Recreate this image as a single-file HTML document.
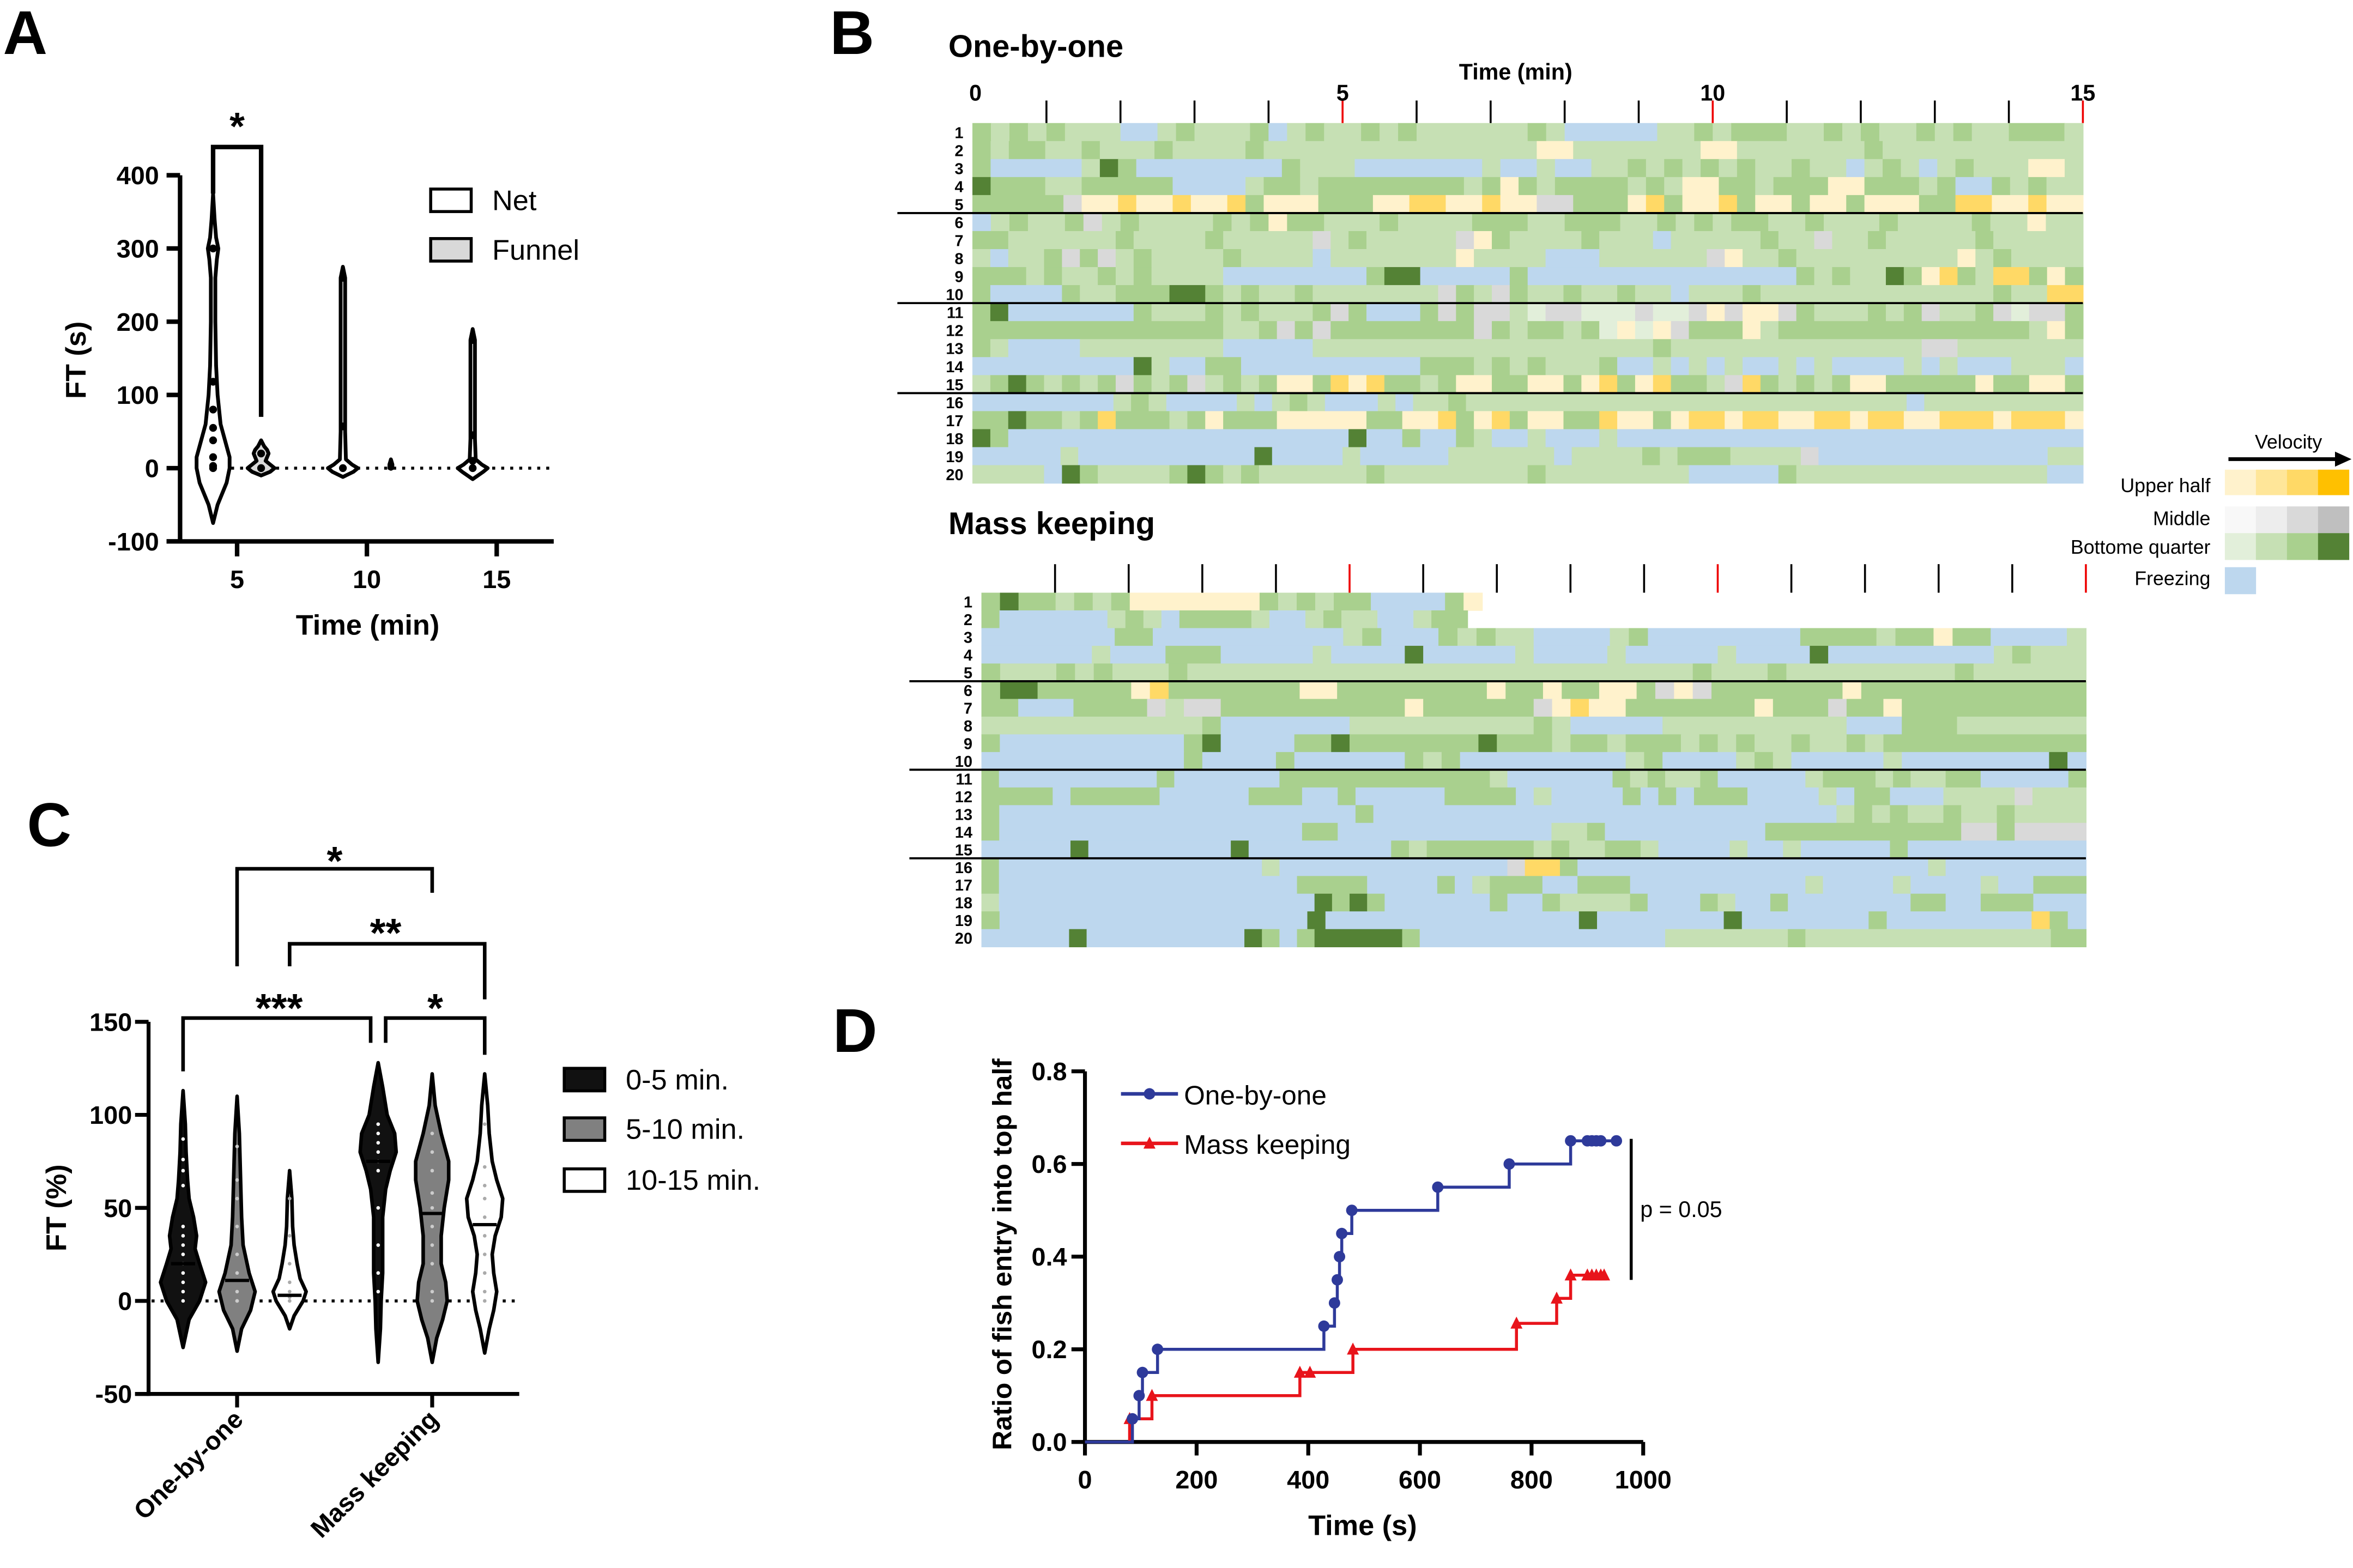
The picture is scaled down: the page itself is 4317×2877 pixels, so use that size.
<!DOCTYPE html>
<html><head><meta charset="utf-8">
<style>
html,body{margin:0;padding:0;background:#fff;}
svg{display:block;font-family:"Liberation Sans",Arial,sans-serif;}
.b{font-weight:bold;}
.rl{font-family:"Liberation Sans Narrow","Liberation Sans",sans-serif;font-weight:bold;font-size:10.5px;}
</style></head>
<body>
<svg id="fig" xmlns="http://www.w3.org/2000/svg" width="4317" height="2877" viewBox="0 0 1568 1045" preserveAspectRatio="none">
<rect x="0" y="0" width="1568" height="1045" fill="#fff"/>
<!-- Panel letters -->
<text x="2" y="36" class="b" font-size="41">A</text>
<text x="553" y="36" class="b" font-size="41">B</text>
<text x="18" y="564" class="b" font-size="41">C</text>
<text x="555" y="701" class="b" font-size="41">D</text>

<g id="panelA">
 <text x="0" y="0" class="b" font-size="19" text-anchor="middle" transform="translate(57,240) rotate(-90)">FT (s)</text>
 <text x="245" y="423" class="b" font-size="19" text-anchor="middle">Time (min)</text>
 <text x="158" y="93" class="b" font-size="26" text-anchor="middle">*</text>
 <rect x="287" y="126" width="27" height="15" fill="#fff" stroke="#000" stroke-width="2"/>
 <text x="328" y="140" font-size="19">Net</text>
 <rect x="287" y="159" width="27" height="15" fill="#d9d9d9" stroke="#000" stroke-width="2"/>
 <text x="328" y="173" font-size="19">Funnel</text>
</g>

<g id="panelB">
 <text x="632" y="38" class="b" font-size="21">One-by-one</text>
 <text x="1010" y="53" class="b" font-size="15" text-anchor="middle">Time (min)</text>
 <text x="632" y="356" class="b" font-size="21">Mass keeping</text>
 <text x="1525" y="299" font-size="13" text-anchor="middle">Velocity</text>
 <line x1="1485" y1="306" x2="1558" y2="306" stroke="#000" stroke-width="2.5"/>
 <polygon points="1556,301 1567,306 1556,311" fill="#000"/>
 <text x="1473" y="328" font-size="13" text-anchor="end">Upper half</text>
 <text x="1473" y="350" font-size="13" text-anchor="end">Middle</text>
 <text x="1473" y="369" font-size="13" text-anchor="end">Bottome quarter</text>
 <text x="1473" y="390" font-size="13" text-anchor="end">Freezing</text>
</g>

<g id="panelC">
 <text x="0" y="0" class="b" font-size="19" text-anchor="middle" transform="translate(44,805) rotate(-90)">FT (%)</text>
 <rect x="376" y="712" width="27" height="15" fill="#111" stroke="#000" stroke-width="2"/>
 <text x="417" y="726" font-size="19">0-5 min.</text>
 <rect x="376" y="745" width="27" height="15" fill="#808080" stroke="#000" stroke-width="2"/>
 <text x="417" y="759" font-size="19">5-10 min.</text>
 <rect x="376" y="779" width="27" height="15" fill="#fff" stroke="#000" stroke-width="2"/>
 <text x="417" y="793" font-size="19">10-15 min.</text>
</g>

<g id="panelD">
 <text x="0" y="0" class="b" font-size="18" text-anchor="middle" transform="translate(674,836) rotate(-90)">Ratio of fish entry into top half</text>
 <text x="908" y="1023" class="b" font-size="19" text-anchor="middle">Time (s)</text>
 <text x="789" y="736" font-size="18">One-by-one</text>
 <text x="789" y="769" font-size="18">Mass keeping</text>
 <line x1="1087" y1="759" x2="1087" y2="853" stroke="#000" stroke-width="2"/>
 <text x="1093" y="811" font-size="15">p = 0.05</text>
</g>
</svg>
<script>
const NS='http://www.w3.org/2000/svg';
const fig=document.getElementById('fig');
function mk(tag,attrs,parent){const e=document.createElementNS(NS,tag);for(const k in attrs)e.setAttribute(k,attrs[k]);(parent||fig).appendChild(e);return e;}

/* ================= PANEL A data ================= */
const aTimes=[5,10,15];
const aTicks=[400,300,200,100,0,-100];
const net5V=[-75,-50,-20,0,15,30,60,100,140,200,260,285,300,315,340,375];
const net5W=[0,3,9,11,11,9,5,3,2,1.5,1.5,2.5,3.5,2,1,0];
const funnel5V=[-10,-5,0,5,10,15,20,25,30,38];
const funnel5W=[0,6,9,6,3,4,5,4,2,0];
const net10V=[-12,-5,0,5,12,50,100,200,260,275];
const net10W=[0,7,10,6,2,1.5,1.5,1.5,1.5,0];
const funnel10V=[-1,0,5,12];
const funnel10W=[0,1,1,0];
const net15V=[-15,-5,0,5,12,40,100,175,190];
const net15W=[0,7,10,6,2,1.5,1.5,1.5,0];
const net5Dots=[0,3,15,38,55,80,118,300];
const funnel5Dots=[0,20];
const net10Dots=[0,57,260];
const net15Dots=[0,10,45,175];
const aMedians=[30,0,0,0,0,0];

const pA=document.getElementById('panelA');
const yA=v=>312-v*0.488;
const xA=t=>158+(t-5)*17.3;
function violin(parent,cx,vals,wids,ys,fill,sw,name){
  let pts=[];
  for(let i=0;i<vals.length;i++)pts.push([cx+wids[i],ys(vals[i])]);
  for(let i=vals.length-1;i>=0;i--)pts.push([cx-wids[i],ys(vals[i])]);
  const d='M'+pts.map(p=>p[0].toFixed(2)+','+p[1].toFixed(2)).join('L')+'Z';
  const p=mk('path',{d:d,fill:fill,stroke:'#000','stroke-width':sw,'stroke-linejoin':'round'},parent);
  
  
  return p;
}
// axes A
let e=mk('line',{x1:120,y1:yA(400),x2:120,y2:yA(-100)+1.5,stroke:'#000','stroke-width':3},pA);


e=mk('line',{x1:111,y1:yA(-100),x2:369,y2:yA(-100),stroke:'#000','stroke-width':3},pA);


aTicks.forEach(v=>{
  const t=mk('line',{x1:111,y1:yA(v),x2:120,y2:yA(v),stroke:'#000','stroke-width':3},pA);
  
  
  const l=mk('text',{x:106,y:yA(v)+6,'text-anchor':'end','font-size':17,'font-weight':'bold'},pA);
  l.textContent=v;
  
  
});
aTimes.forEach(tm=>{
  const t=mk('line',{x1:xA(tm),y1:yA(-100),x2:xA(tm),y2:yA(-100)+10,stroke:'#000','stroke-width':3},pA);
  
  
  const l=mk('text',{x:xA(tm),y:392,'text-anchor':'middle','font-size':17,'font-weight':'bold'},pA);
  l.textContent=tm;
  
  
});
e=mk('line',{x1:130,y1:yA(0),x2:366,y2:yA(0),stroke:'#000','stroke-width':2,'stroke-dasharray':'2,4'},pA);


const aViolins=[[5,-16,net5V,net5W,'#fff',net5Dots,'violin-net-5'],[5,16,funnel5V,funnel5W,'#d9d9d9',funnel5Dots,'violin-funnel-5'],
 [10,-16,net10V,net10W,'#fff',net10Dots,'violin-net-10'],[10,16,funnel10V,funnel10W,'#d9d9d9',[],'violin-funnel-10'],
 [15,-16,net15V,net15W,'#fff',net15Dots,'violin-net-15']];
aViolins.forEach(g=>{
  const cx=xA(g[0])+g[1];
  violin(pA,cx,g[2],g[3],yA,g[4],2.5,g[6]);
  g[5].forEach(v=>{
    const c=mk('circle',{cx:cx,cy:yA(v),r:2.6,fill:'#000'},pA);
    
    
  });
});
e=mk('path',{d:`M${xA(5)-16},${yA(375)} L${xA(5)-16},98 L${xA(5)+16},98 L${xA(5)+16},${yA(70)}`,fill:'none',stroke:'#000','stroke-width':3},pA);



/* ================= PANEL B data ================= */
const heatColors={F:'#bdd7ee',a:'#e2efda',b:'#c6e0b4',c:'#a9d08e',d:'#548235',y:'#fff2cc',Y:'#ffd966',g:'#d9d9d9'};
const oboRows=[
"cbcbcbbbFFbcbbbcFbcbbcbcbbbbbbcbFFFFFbbcbcccbbcbcbbcbcbbcccb",
"cbccbbcbbbcbbbbcbbbbbbbbbbbbbbbyybbbbbbbyybbbbbbbcbbbbbbbbbbb",
"cFFFFFbdcFFFFFFFFcbbbFFFFFFFbFFbFFbbcbcbcbcbbcbbFbcbFbcbbbyyb",
"dcccbbcccccFFFFbccbccccccccbcycbccccbcbyyccbcccyycccbcFFcbcbb",
"cccccgyyYyyYyyYcyyycccyyYYyyYyyggcccyYcyyYcyycyycyyyccYYyyYyy",
"Fbcbbcgbcbbbbcbcyccbbbcbbbbcccbbcccbbcbcbccbbcbbbcbbbbcbbybb",
"ccbbbbbbcbbbbcbbbbbgbcbbbbbgycbbbbcbbbFbbbbbcbbgbbcbbbbbcbbbbb",
"bFbbcgcgbcbbbbcbbbbFbbbbbbbybbbbFFFbbbbbbgybbcbbbbbbbbbybcbbbb",
"cccbcbbcbcbbbbFFFFFFFFcddFFFFFcFFFFFFFFFFFFFFFcbcbbdcyYcbYYcyc",
"cFFFFcbbcccddcbcbbcbbbbbbbgcbgcbbcbbcbbFbbbcbbbbbbbbbbbbbcbbYY",
"cdFFFFFFFcbbbcbcbbbcgcFFFcgcggbaggaaagaagygyygcbbbcbcgbbcgaggc",
"ccccccccccccccbbcgcgccccccccgcbccbcayaygcccybccccccccccccccbyc",
"cbFFFFbbbbbbbbFFFFFbbbbbbbbbbbbbbbbbbbcbbbbbbbbbbbbbbggbbbbbbb",
"FFFFFFFFFdbFFccFFFFFFFFFFcccbcbcbbbcFFbFbFbFFbFbFFFFbFbFFFbbbF",
"bcdcbcbcgcbcgbcbcyycYyYccbcyyccyycyYcyYccbgYcbcbcyycccccyccyyc",
"FFFFFFFFbcbFFFFbFbcbFFFbFbbcbbbbbbbbbbbbbbbbbbbbbbbbbFbbbbbbbbb",
"ccdccbcYcccbcycccyyyyyccyyYcyYcyyccYyycyYYyYYyyYYyYYyyYYYyYYYy",
"dcFFFFFFFFFFFFFFFFFFFdFFcFFcbFFbFFFbFFFFFFFFFFFFFFFFFFFFFFFFFF",
"FFFFFbFFFFFFFFFFdFFFFbFFFFFbbbbbbFbbbbcbcccbbbbgFFFFFFFFFFFFFbb",
"bbbbFdcbbbbcdcbcbbbbbbcbbbbbbbbcbbbbbbbbFFFFFcbbbbbbbbbbbbbbFF"];
const oboDur=[15,15,15,15,15,15,15,15,15,15,15,15,15,15,15,15,15,15,15,15];
const mkRows=[
"cdccbcbcyyyyyyycbcbccFFFFcy",
"cFFFFFFbcbFccccbFFbcbbFFbcc",
"FFFFFFFccFFFFFFFFFFbcFFFcbcbbFFFFbcFFFFFFFFccccbccyccFFFFb",
"FFFFFFbFFFcccFFFFFbFFFFdFFFFFbFFFFbFFFFFbFFFFdFFFFFFFFFbcbbb",
"cbbbcbcbbbcbbbbbbbbbbbbbbbbbbbbbbbbbbbcbbbcbbbbbbbbbcbbbbbb",
"cddcccccyYcccccccyyccccccccyccyccyycgygcccccccycccccccccccc",
"ccFFFccccgbggccccccccccyccccccgyYyycccccccycccgccycccccccccc",
"bbbbbbbbbbbbcFFFFFFFbbbbbbbbbbcbFFFFFbbbbbbbbbbFFFcccbbbbbbb",
"cFFFFFFFFFFcdFFFFccdcccccccdcccbccbcccbcbcbbcbbcbccccccccccc",
"FFFFFFFFFFFcFFFFcFFFFFFcbcFFFFFFFFFbcFFFFbcbFFFFFbFFFFFFFFdF",
"cFFFFFFFFFcFFFFFFccccccccccccbFFFFFFcbcbbcFFFFFbcccbcbbccFFFFFc",
"ccccFcccccFFFFFcccFFcFFFFFccccFbFFFFcFcFcccFFFFbFccFFFbbbbgbbb",
"cFFFFFFFFFFFFFFFFFFFFcFFFFFFFFFFFFFFFFFFFFFFFFFFbcbcbbcbbcbbbb",
"cFFFFFFFFFFFFFFFFFccFFFFFFFFFFFFbbcFFFFFFFFFcccccccccccggcgggg",
"FFFFFdFFFFFFFFdFFFFFFFFcbccccccbcbbccbFFFFbFFbFFFFFcFFFFFFFFFF",
"cFFFFFFFFFFFFFFFbFFFFFFFFFFFFFgYYcFFFFFFFFFFFFFFFFFFFFbFFFFFFFF",
"cFFFFFFFFFFFFFFFFFccccFFFFcFbcccFFcccFFFFFFFFFFbFFFFbFFFFbFFccc",
"bFFFFFFFFFFFFFFFFFFdcdcFFFFFFcFFcbbbbcFFFcbFFcFFFFFFFccFFcccFFF",
"cFFFFFFFFFFFFFFFFFdFFFFFFFFFFFFFFdFFFFFFFdFFFFFFFcFFFFFFFFYcF",
"FFFFFdFFFFFFFFFdcFcdddddcFFFFFFFFFFFFFFbbbbbbbcbbbbbbbbbbbbbbcc"];
const mkDur=[6.8,6.6,15,15,15,15,15,15,15,15,15,15,15,15,15,15,15,15,15,15];
const minuteTicks=[0,1,2,3,4,5,6,7,8,9,10,11,12,13,14,15];
const minuteLabels=[0,5,10,15];
const pB=document.getElementById('panelB');
function heatmap(rows,durs,x0,x1,y0,rh,prefix,sepX0){
  const xs=m=>x0+(x1-x0)*m/15;
  rows.forEach((row,r)=>{
    const bw=(xs(durs[r])-x0)/row.length;
    let i=0;
    while(i<row.length){
      let j=i;while(j<row.length&&row[j]===row[i])j++;
      const rc=mk('rect',{x:(x0+i*bw).toFixed(2),y:(y0+r*rh).toFixed(2),width:((j-i)*bw+0.4).toFixed(2),height:rh+0.3,fill:heatColors[row[i]]},pB);
      
      
      i=j;
    }
    const l=mk('text',{x:x0-6,y:y0+r*rh+rh-2,'text-anchor':'end',class:'rl'},pB);
    l.textContent=r+1;
    
    
  });
  [5,10,15].forEach(k=>{
    const s=mk('line',{x1:sepX0,y1:y0+k*rh,x2:x1,y2:y0+k*rh,stroke:'#000','stroke-width':1.4},pB);
    
    
  });
  return xs;
}
const xs1=heatmap(oboRows,oboDur,648,1388,82,12,'obo-heatmap',598);
const xs2=heatmap(mkRows,mkDur,654,1390,395,11.8,'mk-heatmap',606);
minuteTicks.forEach(m=>{
  if(m>0){
    const t=mk('line',{x1:xs1(m),y1:67,x2:xs1(m),y2:82,stroke:m%5===0?'#e00':'#000','stroke-width':1.3},pB);
    
    
    const t2=mk('line',{x1:xs2(m),y1:376,x2:xs2(m),y2:395,stroke:m%5===0?'#e00':'#000','stroke-width':1.3},pB);
    
    
  }
});
minuteLabels.forEach(m=>{
  const l=mk('text',{x:xs1(m)+(m===0?2:0),y:67,'text-anchor':'middle','font-size':15,'font-weight':'bold'},pB);
  l.textContent=m;
  
  
});
const legendRows=[['#fff2cc','#ffe699','#ffd966','#ffc000'],['#f8f8f8','#ededed','#d9d9d9','#bfbfbf'],['#e2efda','#c6e0b4','#a9d08e','#548235'],['#bdd7ee']];
const legendY=[[313,330],[337.5,355.3],[355.3,373.2],[378,396]];
legendRows.forEach((cols,r)=>{
  cols.forEach((c,k)=>{
    const rc=mk('rect',{x:1482.6+k*20.7,y:legendY[r][0],width:20.8,height:legendY[r][1]-legendY[r][0],fill:c},pB);
    
    
  });
});

/* ================= PANEL C data ================= */
const cGroups=['One-by-one','Mass keeping'];
const cTicks=[150,100,50,0,-50];
const obo0V=[-25,-10,0,10,20,28,35,45,55,65,80,95,113];
const obo0W=[0,4,11,15,11,8,9,7,4,3,2,1.5,0];
const obo5V=[-27,-15,-5,5,15,30,45,60,75,90,110];
const obo5W=[0,3,9,12,8,4,3,2.5,2,1.5,0];
const obo10V=[-15,-8,0,5,12,20,30,40,55,70];
const obo10W=[0,3,9,11,7,5,3,2,1.5,0];
const mk0V=[-33,-15,0,15,30,45,60,70,80,90,100,115,128];
const mk0W=[0,1.5,2,3,3,3,5,8,12,11,6,3,0];
const mk5V=[-33,-20,-10,0,10,20,35,50,65,75,90,105,122];
const mk5W=[0,3,7,10,9,6,6,8,11,11,6,2,0];
const mk10V=[-28,-15,-5,5,15,25,35,45,55,65,75,90,105,122];
const mk10W=[0,3,6,8,6,5,7,11,12,8,5,3,2,0];
const cMedians=[20,11,3,75,47,41];
const obo0Dots=[0,5,10,15,20,25,30,35,40,62,70,76,87];
const obo5Dots=[0,0,5,15,25,40,55,65,83];
const obo10Dots=[0,0,2,5,10,20,35,55];
const mk0Dots=[5,15,30,50,70,75,80,85,90,95];
const mk5Dots=[0,5,20,30,40,50,58,70,80,90];
const mk10Dots=[0,5,15,25,35,45,55,62,72,95];
const pC=document.getElementById('panelC');
const yC=v=>867-v*1.24;
const xC=[122,158,193,252,288,323];
e=mk('line',{x1:99,y1:yC(150),x2:99,y2:yC(-50)+1.3,stroke:'#000','stroke-width':2.6},pC);


e=mk('line',{x1:90,y1:yC(-50),x2:346,y2:yC(-50),stroke:'#000','stroke-width':2.6},pC);


cTicks.forEach(v=>{
  const t=mk('line',{x1:90,y1:yC(v),x2:99,y2:yC(v),stroke:'#000','stroke-width':2.6},pC);
  
  
  const l=mk('text',{x:88,y:yC(v)+6,'text-anchor':'end','font-size':17,'font-weight':'bold'},pC);
  l.textContent=v;
  
  
});
cGroups.forEach((g,i)=>{
  const x=i===0?158:288;
  const t=mk('line',{x1:x,y1:yC(-50),x2:x,y2:yC(-50)+9,stroke:'#000','stroke-width':2.6},pC);
  
  
  const l=mk('text',{x:0,y:0,'text-anchor':'end','font-size':17,'font-weight':'bold',transform:`translate(${x+5},${yC(-50)+18}) rotate(-45)`},pC);
  l.textContent=g;
  
  
});
e=mk('line',{x1:101,y1:yC(0),x2:344,y2:yC(0),stroke:'#000','stroke-width':2,'stroke-dasharray':'2,4'},pC);


const cV=[[obo0V,obo0W,'#111',obo0Dots,'#fff'],[obo5V,obo5W,'#808080',obo5Dots,'#ccc'],[obo10V,obo10W,'#fff',obo10Dots,'#aaa'],
 [mk0V,mk0W,'#111',mk0Dots,'#fff'],[mk5V,mk5W,'#808080',mk5Dots,'#ccc'],[mk10V,mk10W,'#fff',mk10Dots,'#aaa']];
const cNames=['obo-0-5','obo-5-10','obo-10-15','mk-0-5','mk-5-10','mk-10-15'];
cV.forEach((g,i)=>{
  violin(pC,xC[i],g[0],g[1],yC,g[2],2.4,'violin-'+cNames[i]);
  g[3].forEach(v=>{
    const c=mk('circle',{cx:xC[i],cy:yC(v),r:1.2,fill:g[4]},pC);
    
    
  });
  const m=mk('line',{x1:xC[i]-8,y1:yC(cMedians[i]),x2:xC[i]+8,y2:yC(cMedians[i]),stroke:'#000','stroke-width':2.2},pC);
  
  
});
const brackets=[[122,247,678.5,714,695,'***',186,671,'bracket-obo-vs-mk-0-5'],[257,323,678.5,695,703,'*',290,671,'bracket-mk-0-5-vs-10-15'],
 [193,323,629,644,666,'**',257,621,'bracket-obo-vs-mk-10-15'],[158,288,579,644,595,'*',223,573,'bracket-obo-vs-mk-5-10']];
brackets.forEach(b=>{
  const p=mk('path',{d:`M${b[0]},${b[3]} L${b[0]},${b[2]} L${b[1]},${b[2]} L${b[1]},${b[4]}`,fill:'none',stroke:'#000','stroke-width':2.4},pC);
  
  
  const s=mk('text',{x:b[6],y:b[7]+10,'text-anchor':'middle','font-size':27,'font-weight':'bold'},pC);
  s.textContent=b[5];
  
  
});

/* ================= PANEL D data ================= */
const dXTicks=[0,200,400,600,800,1000];
const dYTicks=[0,0.2,0.4,0.6,0.8];
const oboT=[85,97,103,130,428,447,452,456,460,478,632,760,870];
const oboV=[0.05,0.10,0.15,0.20,0.25,0.30,0.35,0.40,0.45,0.50,0.55,0.60,0.65];
const oboCensT=[900,908,916,924,952];
const mkT=[80,120,385,480,773,845,870];
const mkV=[0.05,0.10,0.15,0.20,0.256,0.31,0.36];
const mkCensT=[403,900,908,916,924,930];
const pD=document.getElementById('panelD');
const xD=t=>723+t*0.372;
const yD=v=>961-v*308.75;
e=mk('line',{x1:723,y1:yD(0.8),x2:723,y2:yD(0)+1.3,stroke:'#000','stroke-width':2.6},pD);


e=mk('line',{x1:723,y1:yD(0),x2:xD(1000),y2:yD(0),stroke:'#000','stroke-width':2.6},pD);


dYTicks.forEach(v=>{
  const t=mk('line',{x1:714,y1:yD(v),x2:723,y2:yD(v),stroke:'#000','stroke-width':2.6},pD);
  
  
  const l=mk('text',{x:711,y:yD(v)+6,'text-anchor':'end','font-size':17,'font-weight':'bold'},pD);
  l.textContent=v.toFixed(1);
  
  
});
dXTicks.forEach(t0=>{
  const t=mk('line',{x1:xD(t0),y1:yD(0),x2:xD(t0),y2:yD(0)+9,stroke:'#000','stroke-width':2.6},pD);
  
  
  const l=mk('text',{x:xD(t0),y:yD(0)+31,'text-anchor':'middle','font-size':17,'font-weight':'bold'},pD);
  l.textContent=t0;
  
  
});
function stepPath(T,V,endT){
  let d=`M${xD(0)},${yD(0)}`;let cur=0;
  T.forEach((t,i)=>{d+=` L${xD(t)},${yD(cur)} L${xD(t)},${yD(V[i])}`;cur=V[i];});
  d+=` L${xD(endT)},${yD(cur)}`;return d;
}
function tri(x,y,col,name){
  const p=mk('polygon',{points:`${x-4},${y+3.5} ${x+4},${y+3.5} ${x},${y-4.5}`,fill:col},pD);
  
  
}
function dot(x,y,col,name){
  const c=mk('circle',{cx:x,cy:y,r:3.8,fill:col},pD);
  
  
}
const blue='#2e3a9a',red='#e8141b';
e=mk('path',{d:stepPath(mkT,mkV,930),fill:'none',stroke:red,'stroke-width':2},pD);


e=mk('path',{d:stepPath(oboT,oboV,952),fill:'none',stroke:blue,'stroke-width':2},pD);


mkT.forEach((t,i)=>tri(xD(t),yD(mkV[i]),red,'d-mass-keeping-point'));
mkCensT.forEach(t=>{let v=0;mkT.forEach((tt,i)=>{if(tt<=t)v=mkV[i];});tri(xD(t),yD(v),red,'d-mass-keeping-censored');});
oboT.forEach((t,i)=>dot(xD(t),yD(oboV[i]),blue,'d-one-by-one-point'));
oboCensT.forEach(t=>{let v=0;oboT.forEach((tt,i)=>{if(tt<=t)v=oboV[i];});dot(xD(t),yD(v),blue,'d-one-by-one-censored');});
e=mk('line',{x1:747,y1:729,x2:785,y2:729,stroke:blue,'stroke-width':2.4},pD);


dot(766,729,blue,'d-legend-one-by-one-marker');
e=mk('line',{x1:747,y1:762,x2:785,y2:762,stroke:red,'stroke-width':2.4},pD);


tri(766,762,red,'d-legend-mass-keeping-marker');
</script>
</body></html>
